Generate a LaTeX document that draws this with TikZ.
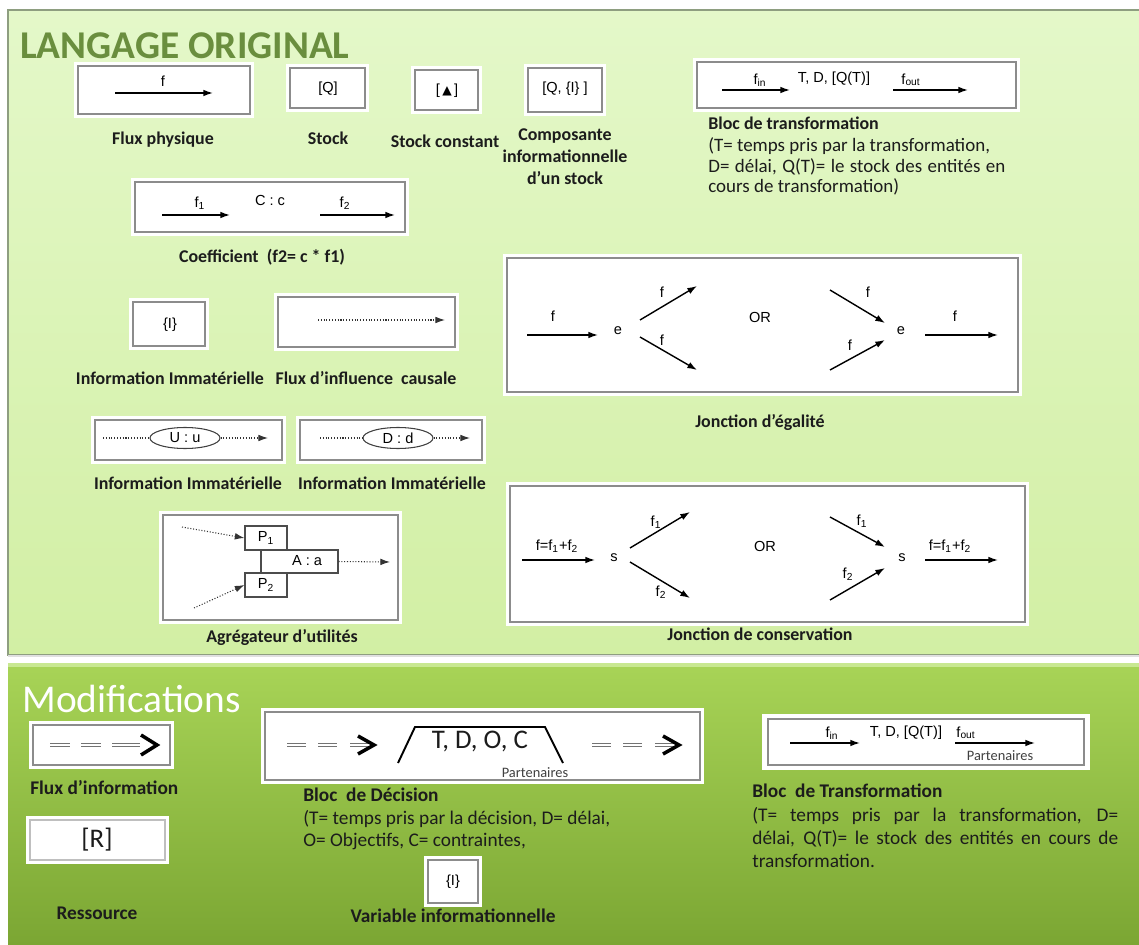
\documentclass[tikz,border=0pt]{standalone}
\usepackage{fontspec}
\setmainfont{Carlito}
\newfontfamily\arialf{Liberation Sans}
\newfontfamily\dejavuf{DejaVu Sans}
\usetikzlibrary{arrows.meta,fit,shapes.geometric}
\newcommand\fsLbl{\fontsize{10.2pt}{12.5pt}\selectfont\bfseries}
\newcommand\fsDesc{\fontsize{10.8pt}{12.5pt}\selectfont}
\newcommand\fsLblB{\fontsize{11pt}{13pt}\selectfont\bfseries}
\newcommand\fsDescB{\fontsize{11pt}{13pt}\selectfont}
\newcommand\fsTitle{\fontsize{22.4pt}{26pt}\selectfont}
\newcommand\fsDia{\arialf\fontsize{8.3pt}{9.5pt}\selectfont}
\newcommand\fsBig{\fontsize{15.3pt}{17pt}\selectfont}
\newcommand\fsPart{\fontsize{8.2pt}{9pt}\selectfont}
\definecolor{topA}{HTML}{E4F8C9}
\definecolor{topB}{HTML}{D2EFA4}
\definecolor{topBd}{HTML}{8E9E80}
\definecolor{botA}{HTML}{A8D457}
\definecolor{botB}{HTML}{7BA633}
\definecolor{botStrip}{HTML}{C8E891}
\definecolor{ttl}{HTML}{6A8E3E}
\definecolor{ink}{HTML}{1C1C1C}
\begin{document}
\begin{tikzpicture}[x=0.02cm,y=-0.02cm,
  wbox/.style={draw=black!45, fill=white, line width=0.6pt, preaction={draw=white, line width=4pt}, inner sep=0pt},
  ibox/.style={draw=black!70, fill=white, line width=0.6pt, inner sep=0pt},
  arr/.style={line width=0.8pt, -{Latex[length=5.5pt,width=3.8pt]}},
  darr/.style={line width=0.6pt, densely dotted, draw=black!80, -{Latex[length=5.5pt,width=3.8pt]}},
  dln/.style={line width=0.6pt, densely dotted, draw=black!80},
  dia/.style={font=\fsDia, inner sep=0pt, anchor=mid},
  lbl/.style={font=\fsLbl, inner sep=0pt, anchor=mid, text=ink},
  desc/.style={font=\fsDesc, inner sep=0pt, anchor=mid west, text=ink},
  lblb/.style={font=\fsLblB, inner sep=0pt, anchor=mid, text=ink},
  descb/.style={font=\fsDescB, inner sep=0pt, anchor=mid west, text=ink},
  dd/.style={draw=black!55, line width=0.7pt, double=white, double distance=1.2pt},
  chev/.style={draw=black, line width=2pt, miter limit=10}
]
\useasboundingbox (0,0) rectangle (1139,945);
\fill[white] (0,0) rectangle (1139,945);
% panels
\shadedraw[top color=topA, bottom color=topB, draw=topBd, line width=0.8pt] (8,10) rectangle (1145,655);
\fill[black!12] (8,655) rectangle (1139,657);
\shade[top color=botA, bottom color=botB] (8,663) rectangle (1139,945);
\fill[botStrip] (8,663) rectangle (1139,667);

% ---------- LANGAGE ORIGINAL ----------
\node[font=\fsTitle\bfseries, text=ttl, anchor=base west, inner sep=0] (title) at (20,59) {LANGAGE ORIGINAL};

% Flux physique
\node[wbox, fit={(78,66)(250,114)}] (bfp) {};
\coordinate (fpA) at (115,93); \coordinate (fpB) at (213,93);
\draw[arr] (fpA) -- (fpB);
\node[dia] (tf0) at (163,82) {f};
\node[lbl] (lfp) at (163,140) {Flux physique};

% Stock
\node[wbox, fit={(290,68)(365,108)}] (bst) {};
\node[dia] (tq) at (328,88) {[Q]};
\node[lbl] (lst) at (328,140) {Stock};

% Stock constant
\node[wbox, fit={(415,70)(478,110)}] (bsc) {};
\node[dia] (tsc) at (447,90) {[\,{\dejavuf\fontsize{7pt}{8pt}\selectfont ▲}\,]};
\node[lbl] (lsc) at (445,143) {Stock constant};

% Composante informationnelle
\node[wbox, fit={(528,68)(602,112)}] (bci) {};
\node[dia] (tci) at (565,88) {[Q, \{I\} ]};
\node[lbl, align=center, anchor=center] (lci) at (565,157) {Composante\\informationnelle\\d’un stock};

% Bloc de transformation (top)
\node[wbox, fit={(697,62)(1016,108)}] (btt) {};
\coordinate (tiA) at (722,90); \coordinate (tiB) at (790,90);
\coordinate (toA) at (893,90); \coordinate (toB) at (968,90);
\draw[arr] (tiA) -- (tiB);
\draw[arr] (toA) -- (toB);
\node[dia] (tfin) at (760,80) {f\textsubscript{in}};
\node[dia] (ttdq) at (834,78) {T, D, [Q(T)]};
\node[dia] (tfout) at (911,80) {f\textsubscript{out}};
\node[lbl, anchor=mid west] (lbt) at (708,125) {Bloc de transformation};
\node[desc] (dbt1) at (708,147) {(T= temps pris par la transformation,};
\node[desc] (dbt2) at (708,168) {\hbox to 59.4mm{D= délai, Q(T)= le stock des entités en}};
\node[desc] (dbt3) at (708,188) {cours de transformation)};

% Coefficient
\node[wbox, fit={(135,182)(405,232)}] (bco) {};
\coordinate (c1A) at (162,215); \coordinate (c1B) at (230,215);
\coordinate (c2A) at (320,215); \coordinate (c2B) at (395,215);
\draw[arr] (c1A) -- (c1B);
\draw[arr] (c2A) -- (c2B);
\node[dia] (tf1) at (200,203) {f\textsubscript{1}};
\node[dia] (tcc) at (270,201) {C : c};
\node[dia] (tf2) at (345,203) {f\textsubscript{2}};
\node[lbl] (lco) at (262,258) {Coefficient\ \ (f2= c * f1)};

% {I}
\node[wbox, fit={(133,302)(205,346)}] (bii) {};
\node[dia] (tii) at (170,324) {\{I\}};
\node[lbl] (lii) at (170,380) {Information Immatérielle};

% Flux d'influence causale
\node[wbox, fit={(278,297)(455,347)}] (bfi) {};
\coordinate (fiA) at (318,320); \coordinate (fiB) at (445,320);
\draw[darr] (fiA) -- (fiB);
\node[lbl] (lfi) at (366,380) {Flux d’influence\ \ causale};

% U : u
\node[wbox, fit={(95,420)(282,460)}] (buu) {};
\node[ellipse, draw=black!75, fill=white, line width=0.6pt, minimum width=14mm, minimum height=4.2mm, inner sep=0, font=\fsDia] (eu) at (185,438) {U : u};
\coordinate (uA) at (103,438); \coordinate (uB) at (268,438);
\draw[dln] (uA) -- (eu.west);
\draw[darr] (eu.east) -- (uB);
\node[lbl] (luu) at (188,485) {Information Immatérielle};

% D : d
\node[wbox, fit={(300,420)(482,460)}] (bdd) {};
\node[ellipse, draw=black!75, fill=white, line width=0.6pt, minimum width=14mm, minimum height=4.2mm, inner sep=0, font=\fsDia] (ed) at (398,438) {D : d};
\coordinate (dA) at (320,438); \coordinate (dB) at (470,438);
\draw[dln] (dA) -- (ed.west);
\draw[darr] (ed.east) -- (dB);
\node[lbl] (ldd) at (392,485) {Information Immatérielle};

% Agregateur
\node[wbox, fit={(163,515)(398,620)}] (bag) {};
\node[ibox, fit={(261,550)(338,573)}] (baa) {};
\node[ibox, fit={(245,526)(287,550)}] (bp1) {};
\node[ibox, fit={(245,573)(287,597)}] (bp2) {};
\node[dia, anchor=center] (tp1) at (266,538) {P\textsubscript{1}};
\node[dia, anchor=center] (tp2) at (266,585) {P\textsubscript{2}};
\node[dia, anchor=center] (taa) at (307,561) {A : a};
\coordinate (ag1) at (182,527); \coordinate (ag2) at (194,608); \coordinate (ag3) at (390,562);
\draw[darr] (ag1) -- (bp1.west);
\draw[darr] (ag2) -- (bp2.west);
\draw[darr] (baa.east) -- (ag3);
\node[lbl] (lag) at (282,638) {Agrégateur d’utilités};

% Jonction d'egalite
\node[wbox, fit={(507,258)(1018,392)}] (bje) {};
\node[dia] (je1) at (618,330) {e};
\node[dia] (je2) at (901,330) {e};
\coordinate (jeA) at (527,335); \coordinate (jeB) at (598,335);
\coordinate (jeC) at (640,320); \coordinate (jeD) at (697,286);
\coordinate (jeE) at (640,337); \coordinate (jeF) at (697,370);
\coordinate (jeG) at (830,290); \coordinate (jeH) at (885,323);
\coordinate (jeI) at (830,370); \coordinate (jeJ) at (885,340);
\coordinate (jeK) at (925,335); \coordinate (jeL) at (998,335);
\draw[arr] (jeA) -- (jeB);
\draw[arr] (jeC) -- (jeD);
\draw[arr] (jeE) -- (jeF);
\draw[arr] (jeG) -- (jeH);
\draw[arr] (jeI) -- (jeJ);
\draw[arr] (jeK) -- (jeL);
\node[dia] (jf1) at (553,317) {f};
\node[dia] (jf2) at (662,293) {f};
\node[dia] (jf3) at (662,341) {f};
\node[dia] (jor) at (760,318) {OR};
\node[dia] (jf4) at (868,293) {f};
\node[dia] (jf5) at (850,346) {f};
\node[dia] (jf6) at (955,317) {f};
\node[lbl] (lje) at (760,423) {Jonction d’égalité};

% Jonction de conservation
\node[wbox, fit={(510,486)(1025,622)}] (bjc) {};
\node[dia] (js1) at (614,557) {s};
\node[dia] (js2) at (902,557) {s};
\coordinate (jcA) at (522,560); \coordinate (jcB) at (595,560);
\coordinate (jcC) at (630,548); \coordinate (jcD) at (690,512);
\coordinate (jcE) at (630,562); \coordinate (jcF) at (690,598);
\coordinate (jcG) at (830,517); \coordinate (jcH) at (885,547);
\coordinate (jcI) at (830,600); \coordinate (jcJ) at (885,568);
\coordinate (jcK) at (925,560); \coordinate (jcL) at (998,560);
\draw[arr] (jcA) -- (jcB);
\draw[arr] (jcC) -- (jcD);
\draw[arr] (jcE) -- (jcF);
\draw[arr] (jcG) -- (jcH);
\draw[arr] (jcI) -- (jcJ);
\draw[arr] (jcK) -- (jcL);
\node[dia] (jcs) at (557,546) {f=f\textsubscript{1}+f\textsubscript{2}};
\node[dia] (jcf1) at (656,522) {f\textsubscript{1}};
\node[dia] (jcf2) at (661,592) {f\textsubscript{2}};
\node[dia] (jcor) at (765,547) {OR};
\node[dia] (jcf3) at (862,521) {f\textsubscript{1}};
\node[dia] (jcf4) at (848,574) {f\textsubscript{2}};
\node[dia] (jcs2) at (950,546) {f=f\textsubscript{1}+f\textsubscript{2}};
\node[lbl] (ljc) at (760,636) {Jonction de conservation};

% ---------- Modifications ----------
\node[font=\fsTitle, text=white, anchor=base west, inner sep=0] (mtitle) at (22,712) {Modifications};

% Flux d'information
\node[wbox, fit={(33,725)(170,765)}] (bfx) {};
\coordinate (fx1) at (50,745); \coordinate (fx2) at (70,745);
\coordinate (fx3) at (81,745); \coordinate (fx4) at (101,745);
\coordinate (fx5) at (112,745); \coordinate (fx6) at (140,745);
\draw[dd] (fx1) -- (fx2);
\draw[dd] (fx3) -- (fx4);
\draw[dd] (fx5) -- (fx6);
\coordinate (fxa) at (141,735); \coordinate (fxb) at (157,745); \coordinate (fxc) at (141,755);
\draw[chev] (fxa) -- (fxb) -- (fxc);
\node[lblb, anchor=mid west] (lfx) at (30,790) {Flux d'information};

% Bloc de decision
\node[wbox, fit={(265,712)(700,780)}] (bdc) {};
\coordinate (dc1) at (287,745); \coordinate (dc2) at (306,745);
\coordinate (dc3) at (318,745); \coordinate (dc4) at (337,745);
\coordinate (dc5) at (350,745); \coordinate (dc6) at (368,745);
\draw[dd] (dc1) -- (dc2);
\draw[dd] (dc3) -- (dc4);
\draw[dd] (dc5) -- (dc6);
\coordinate (dca) at (358,736); \coordinate (dcb) at (374,745); \coordinate (dcc) at (358,754);
\draw[chev] (dca) -- (dcb) -- (dcc);
\coordinate (tz1) at (398,763); \coordinate (tz2) at (415,727);
\coordinate (tz3) at (545,727); \coordinate (tz4) at (563,763);
\draw[line width=1.1pt, line join=miter] (tz1) -- (tz2) -- (tz3) -- (tz4);
\node[font=\fsBig, inner sep=0, anchor=mid, text=ink] (ttdoc) at (480,744) {T, D, O, C};
\node[font=\fsPart, inner sep=0, anchor=mid, text=black!75] (tpart1) at (535,773) {Partenaires};
\coordinate (dc7) at (592,745); \coordinate (dc8) at (611,745);
\coordinate (dc9) at (623,745); \coordinate (dc10) at (642,745);
\coordinate (dc11) at (655,745); \coordinate (dc12) at (673,745);
\draw[dd] (dc7) -- (dc8);
\draw[dd] (dc9) -- (dc10);
\draw[dd] (dc11) -- (dc12);
\coordinate (dcd) at (663,736); \coordinate (dce) at (679,745); \coordinate (dcf) at (663,754);
\draw[chev] (dcd) -- (dce) -- (dcf);
\node[lblb, anchor=mid west] (ldc) at (303,797) {Bloc\ \ de Décision};
\node[descb] (ddc1) at (303,820) {(T= temps pris par la décision, D= délai,};
\node[descb] (ddc2) at (303,842) {O= Objectifs, C= contraintes,};

% Variable informationnelle
\node[wbox, fit={(428,860)(478,903)}] (bvi) {};
\node[dia] (tvi) at (453,881) {\{I\}};
\node[lblb] (lvi) at (453,918) {Variable informationnelle};

% Ressource
\node[wbox, draw=black!25, fit={(30,820)(165,860)}] (brs) {};
\node[font=\fsBig, inner sep=0, anchor=center, text=ink] (trs) at (97,840) {[R]};
\node[lblb] (lrs) at (97,915) {Ressource};

% Bloc de Transformation (bottom)
\node[fill=white, inner sep=0, fit={(762,714)(1090,770)}] (btbo) {};
\node[draw=black!45, line width=0.6pt, inner sep=0, fit={(768,719)(1084,765)}] (btbi) {};
\coordinate (bi1) at (790,743); \coordinate (bi2) at (860,743);
\coordinate (bo1) at (955,743); \coordinate (bo2) at (1035,743);
\draw[arr] (bi1) -- (bi2);
\draw[arr] (bo1) -- (bo2);
\node[dia] (btfin) at (832,733) {f\textsubscript{in}};
\node[dia] (bttdq) at (906,732) {T, D, [Q(T)]};
\node[dia] (btfout) at (966,733) {f\textsubscript{out}};
\node[font=\fsPart, inner sep=0, anchor=mid, text=black!75] (tpart2) at (1000,756) {Partenaires};
\node[lblb, anchor=mid west] (lbtb) at (752,793) {Bloc\ \ de Transformation};
\node[descb] (dbb1) at (752,817) {\hbox to 73.2mm{(T= temps pris par la transformation, D=}};
\node[descb] (dbb2) at (752,840) {\hbox to 73.2mm{délai, Q(T)= le stock des entités en cours de}};
\node[descb] (dbb3) at (752,863) {transformation.};
\end{tikzpicture}
\end{document}
